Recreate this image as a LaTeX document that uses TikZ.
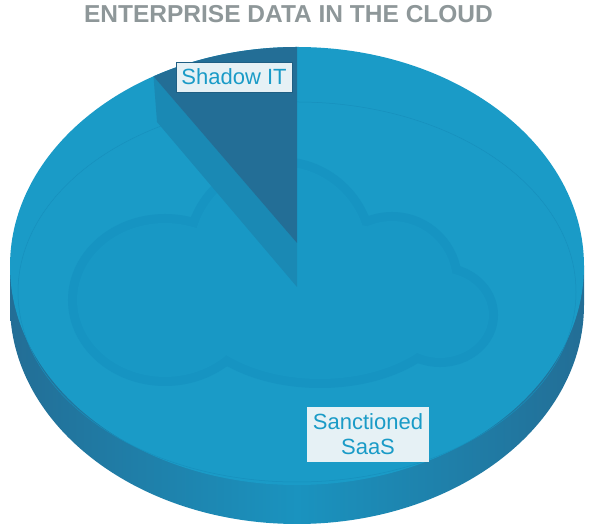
\documentclass[tikz,border=0pt]{standalone}
\usepackage{fontspec}
\setmainfont{Liberation Sans}
\definecolor{pietop}{HTML}{1A9BC7}
\definecolor{piedark}{HTML}{236E96}
\definecolor{piewall}{HTML}{1A89B4}
\definecolor{pieside}{HTML}{1A93BF}
\definecolor{pierim}{HTML}{1790BD}
\definecolor{rimblue}{HTML}{1694C2}
\definecolor{cloudblue}{HTML}{1898C5}
\definecolor{titlegray}{HTML}{8E9799}
\definecolor{labelbg}{HTML}{E6F1F5}
\definecolor{labelline}{HTML}{1F5F84}

\begin{document}
\begin{tikzpicture}[x=1pt, y=1pt,
	cloud rim/.style = {draw=rimblue, line width=18pt},
	cloud body/.style = {fill=cloudblue},
	slice label/.style = {fill=labelbg, text=pietop, inner sep=0pt, align=center,
		font=\fontsize{22}{25}\selectfont}]
	\useasboundingbox (0,0) rectangle (594,532);
	\shade [left color=piedark, right color=piedark, middle color=pieside]
		(10,266) -- (10,227) arc [start angle=180, end angle=360, x radius=287, y radius=219] -- (584,266) -- cycle;
	\fill [pietop] (297,266) ellipse [x radius=287, y radius=219];
	\draw [pierim, line width=.5pt] (297,240) ellipse [x radius=279, y radius=190];
	\foreach \cx/\cy/\rx/\ry in {165/232/88/77, 280/279/87/87, 392/250/61/61, 440/217/49/43, 320/232/131/79}
		\draw [cloud rim] (\cx,\cy) ellipse [x radius=\rx, y radius=\ry];
	\foreach \cx/\cy/\rx/\ry in {165/232/88/77, 280/279/87/87, 392/250/61/61, 440/217/49/43, 320/232/131/79}
		\fill [cloud body] (\cx,\cy) ellipse [x radius=\rx, y radius=\ry];
	\fill [piewall] (153.5,455.7) -- (157,410) -- (297,245) -- (297,289) -- cycle;
	\fill [piedark] (297,289) -- (297,485) arc [start angle=90, end angle=120, x radius=287, y radius=219] -- cycle;
	\node [slice label, draw=labelline, line width=.8pt, minimum width=116, minimum height=30] (shadow) at (234,455) {Shadow IT};
	\node [slice label, minimum width=122, minimum height=55] (sanctioned) at (368,97.5) {Sanctioned\\SaaS};
	\node [text=titlegray, font=\bfseries\fontsize{24.5}{28}\selectfont] (title) at (288.5,518) {ENTERPRISE DATA IN THE CLOUD};
\end{tikzpicture}
\end{document}
